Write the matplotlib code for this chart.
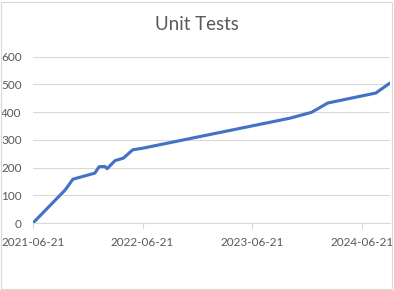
import matplotlib
matplotlib.use("Agg")
import matplotlib.pyplot as plt
import matplotlib.dates as mdates
import pandas as pd
from matplotlib.patches import Rectangle

# test counts
dates = [
    "2021-06-21", "2021-10-06", "2021-11-01", "2022-01-13", "2022-01-27",
    "2022-02-15", "2022-02-23", "2022-03-21", "2022-04-18", "2022-05-19",
    "2022-06-22", "2023-10-24", "2024-01-04", "2024-02-28", "2024-08-06",
    "2024-09-22",
]
tests = [0, 119, 158, 180, 203, 204, 196, 225, 234, 264, 270, 378, 399, 433, 469, 505]
tick_dates = ["2021-06-21", "2022-06-21", "2023-06-21", "2024-06-21"]
y_ticks = [0, 100, 200, 300, 400, 500, 600]

GRID = "#D9D9D9"
TEXT = "#595959"
LINE = "#4472C4"

plt.rcParams["font.family"] = ["Lato", "DejaVu Sans"]

x = pd.to_datetime(dates)
fig = plt.figure(figsize=(3.94, 2.90), dpi=100)
ax = fig.add_axes([33 / 394, 1 - 223 / 290, 357 / 394, (223 - 56.7) / 290])

ax.plot(x, tests, color=LINE, linewidth=2.25, solid_capstyle="round", solid_joinstyle="round")

ax.set_ylim(0, 600)
ax.set_yticks(y_ticks)
ax.set_xlim(pd.Timestamp(dates[0]), pd.Timestamp(dates[-1]))
ax.set_xticks(pd.to_datetime(tick_dates))
ax.xaxis.set_major_formatter(mdates.DateFormatter("%Y-%m-%d"))

ax.grid(axis="y", color=GRID, linewidth=0.8)
ax.set_axisbelow(True)
for side in ["top", "right", "left"]:
    ax.spines[side].set_visible(False)
ax.spines["bottom"].set_color(GRID)
ax.spines["bottom"].set_linewidth(0.8)
ax.tick_params(axis="x", colors=TEXT, labelsize=8.5, length=4, width=0.8, color=GRID, pad=6)
ax.tick_params(axis="y", colors=TEXT, labelsize=8.5, length=0, pad=8)

fig.text(197 / 394, 1 - 24 / 290, "Unit Tests", ha="center", va="center",
         fontsize=13.5, color=TEXT)

# chart area border
fig.patches.append(Rectangle((0.5 / 394, 1.5 / 290), 391 / 394, 287 / 290,
                             transform=fig.transFigure, fill=False,
                             edgecolor=GRID, linewidth=0.8))

fig.savefig("out.png", dpi=100, facecolor="white")
